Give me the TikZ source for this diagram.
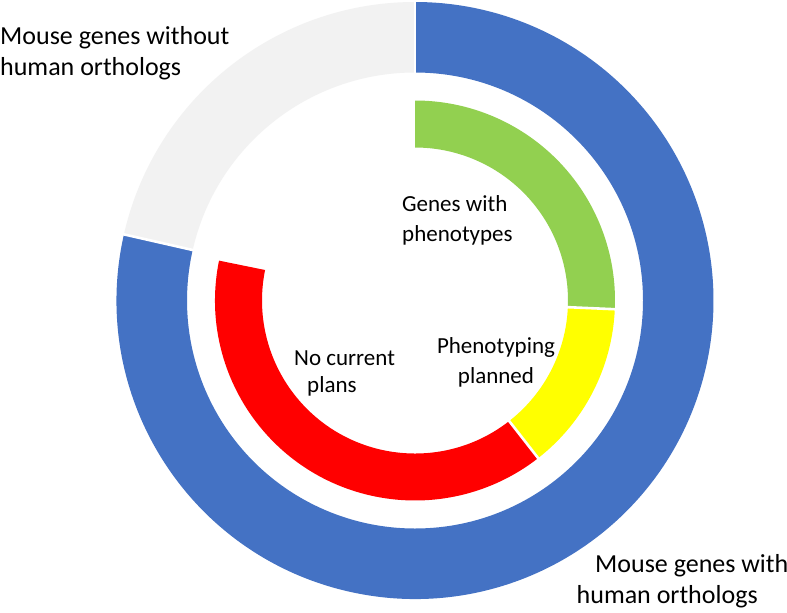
\documentclass[tikz,border=0pt]{standalone}
\usepackage{fontspec}
\setmainfont{Carlito}
\definecolor{cblue}{HTML}{4472C4}
\definecolor{cgray}{HTML}{F2F2F2}
\definecolor{cgreen}{HTML}{92D050}
\definecolor{cyellow}{HTML}{FFFF00}
\definecolor{cred}{HTML}{FF0000}
\newcommand{\ringseg}[5]{% color, start, end, r, R
  \fill[#1] (#2:#5) arc[start angle=#2, end angle=#3, radius=#5] -- (#3:#4) arc[start angle=#3, end angle=#2, radius=#4] -- cycle;}
\tikzset{
  biglabel/.style={inner sep=0pt, font=\fontsize{26}{31}\selectfont, align=left},
  smalllabel/.style={inner sep=0pt, font=\fontsize{23}{30}\selectfont},
  gapline/.style={white, line width=2.6pt}
}
\begin{document}
\begin{tikzpicture}[x=1pt,y=1pt]
\useasboundingbox[fill=white] (0,0) rectangle (787,-613);
\coordinate (C) at (415,-300.5);
\begin{scope}[shift={(C)}]
  % outer ring
  \ringseg{cgray}{90}{167.2}{228pt}{298.5pt}
  \ringseg{cblue}{-192.8}{90}{228pt}{298.5pt}
  \draw[gapline] (90:226pt) -- (90:300pt);
  \draw[gapline] (167.2:226pt) -- (167.2:300pt);
  % inner ring
  \ringseg{cgreen}{-2.5}{90}{153pt}{200pt}
  \ringseg{cyellow}{-52}{-2.5}{153pt}{200pt}
  \ringseg{cred}{-191.5}{-52}{153pt}{200pt}
  \draw[gapline] (-2.5:151pt) -- (-2.5:202pt);
  \draw[gapline] (-52:151pt) -- (-52:202pt);
\end{scope}
% labels (anchor = baseline of the last line)
\node[biglabel, anchor=base west] (without) at (0,-75) {Mouse genes without\\human orthologs};
\node[biglabel, anchor=base west] (with) at (576.5,-603) {\hspace*{18.5pt}Mouse genes with\\human orthologs};
\node[smalllabel, align=left, anchor=base west] (pheno) at (402,-241.5) {Genes with\\phenotypes};
\node[smalllabel, align=center, anchor=base] (planned) at (496,-383) {Phenotyping\\planned};
\node[smalllabel, align=left, anchor=base west, font=\fontsize{23}{27}\selectfont] (noplans) at (294,-392) {No current\\\hspace*{13pt}plans};
\end{tikzpicture}
\end{document}
